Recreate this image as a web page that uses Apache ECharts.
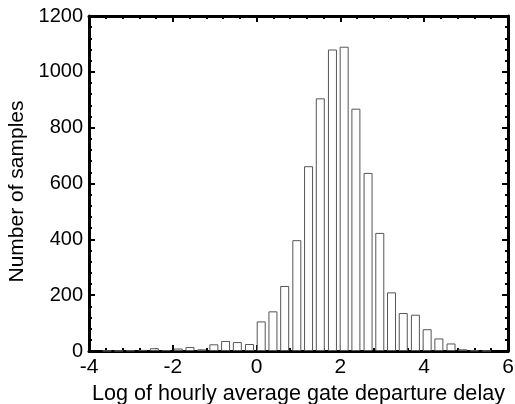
<!DOCTYPE html>
<html>
<head>
<meta charset="utf-8">
<script src="https://cdn.jsdelivr.net/npm/echarts@6/dist/echarts.min.js"></script>
<style>
html,body{margin:0;padding:0;background:#fff;}
#chart{width:515px;height:404px;}
</style>
</head>
<body>
<div id="chart"></div>
<script>
// Bin centres (log of hourly average gate departure delay) and sample counts
const binCenters = [-3.57, -3.29, -3.01, -2.72, -2.44, -2.16, -1.87, -1.59, -1.31, -1.02, -0.74, -0.46, -0.17,
  0.11, 0.39, 0.67, 0.96, 1.24, 1.52, 1.81, 2.09, 2.37, 2.66, 2.94, 3.22, 3.50, 3.79, 4.07, 4.35, 4.64, 4.92, 5.20, 5.49];
const counts = [1, 1, 2, 4, 10, 3, 9, 14, 6, 24, 36, 32, 25,
  106, 142, 233, 397, 662, 905, 1080, 1090, 868, 638, 423, 210, 136, 130, 78, 45, 27, 6, 2, 1];
const xTicks = [-4, -2, 0, 2, 4, 6];
const yTicks = [0, 200, 400, 600, 800, 1000, 1200];
const xTitle = 'Log of hourly average gate departure delay';
const yTitle = 'Number of samples';

const font = "'Liberation Sans', Arial, sans-serif";
const chart = echarts.init(document.getElementById('chart'), null, {renderer: 'canvas'});

function axisCommon(showLabel) {
  return {
    axisLine: {show: true, onZero: false, lineStyle: {color: '#000', width: 3}},
    axisTick: {show: true, inside: true, length: 6, lineStyle: {color: '#000', width: 2}},
    minorTick: {show: true, splitNumber: 5, length: 3, lineStyle: {color: '#000', width: 2}},
    splitLine: {show: false},
    minorSplitLine: {show: false},
    axisLabel: {show: showLabel}
  };
}

const option = {
  animation: false,
  backgroundColor: '#fff',
  grid: {left: 89, right: 7, top: 16, bottom: 53, containLabel: false, outerBoundsMode: 'none'},
  xAxis: [
    Object.assign({
      type: 'value', min: xTicks[0], max: xTicks[xTicks.length - 1], interval: 2,
      position: 'bottom',
      name: xTitle, nameLocation: 'middle', nameGap: 28,
      nameTextStyle: {color: '#000', fontSize: 21.6, fontFamily: font}
    }, axisCommon(true), {axisLabel: {show: true, color: '#000', fontSize: 21, fontFamily: font, margin: 6,
      formatter: v => String(v)}}),
    Object.assign({
      type: 'value', min: xTicks[0], max: xTicks[xTicks.length - 1], interval: 2, position: 'top'
    }, axisCommon(false))
  ],
  yAxis: [
    Object.assign({
      type: 'value', min: yTicks[0], max: yTicks[yTicks.length - 1], interval: 200,
      position: 'left',
      name: yTitle, nameLocation: 'middle', nameGap: 55, nameRotate: 90,
      nameTextStyle: {color: '#000', fontSize: 21, fontFamily: font, padding: [0, 16, 0, 0]}
    }, axisCommon(true), {axisLabel: {show: true, color: '#000', fontSize: 20, fontFamily: font, margin: 6,
      formatter: v => String(v)}}),
    Object.assign({
      type: 'value', min: yTicks[0], max: yTicks[yTicks.length - 1], interval: 200, position: 'right'
    }, axisCommon(false))
  ],
  series: [{
    type: 'bar',
    xAxisIndex: 0,
    yAxisIndex: 0,
    barWidth: 9,
    data: binCenters.map((c, i) => [c, counts[i]]),
    itemStyle: {color: '#fff', borderColor: '#555', borderWidth: 1},
    silent: true
  }]
};
chart.setOption(option);
</script>
</body>
</html>
